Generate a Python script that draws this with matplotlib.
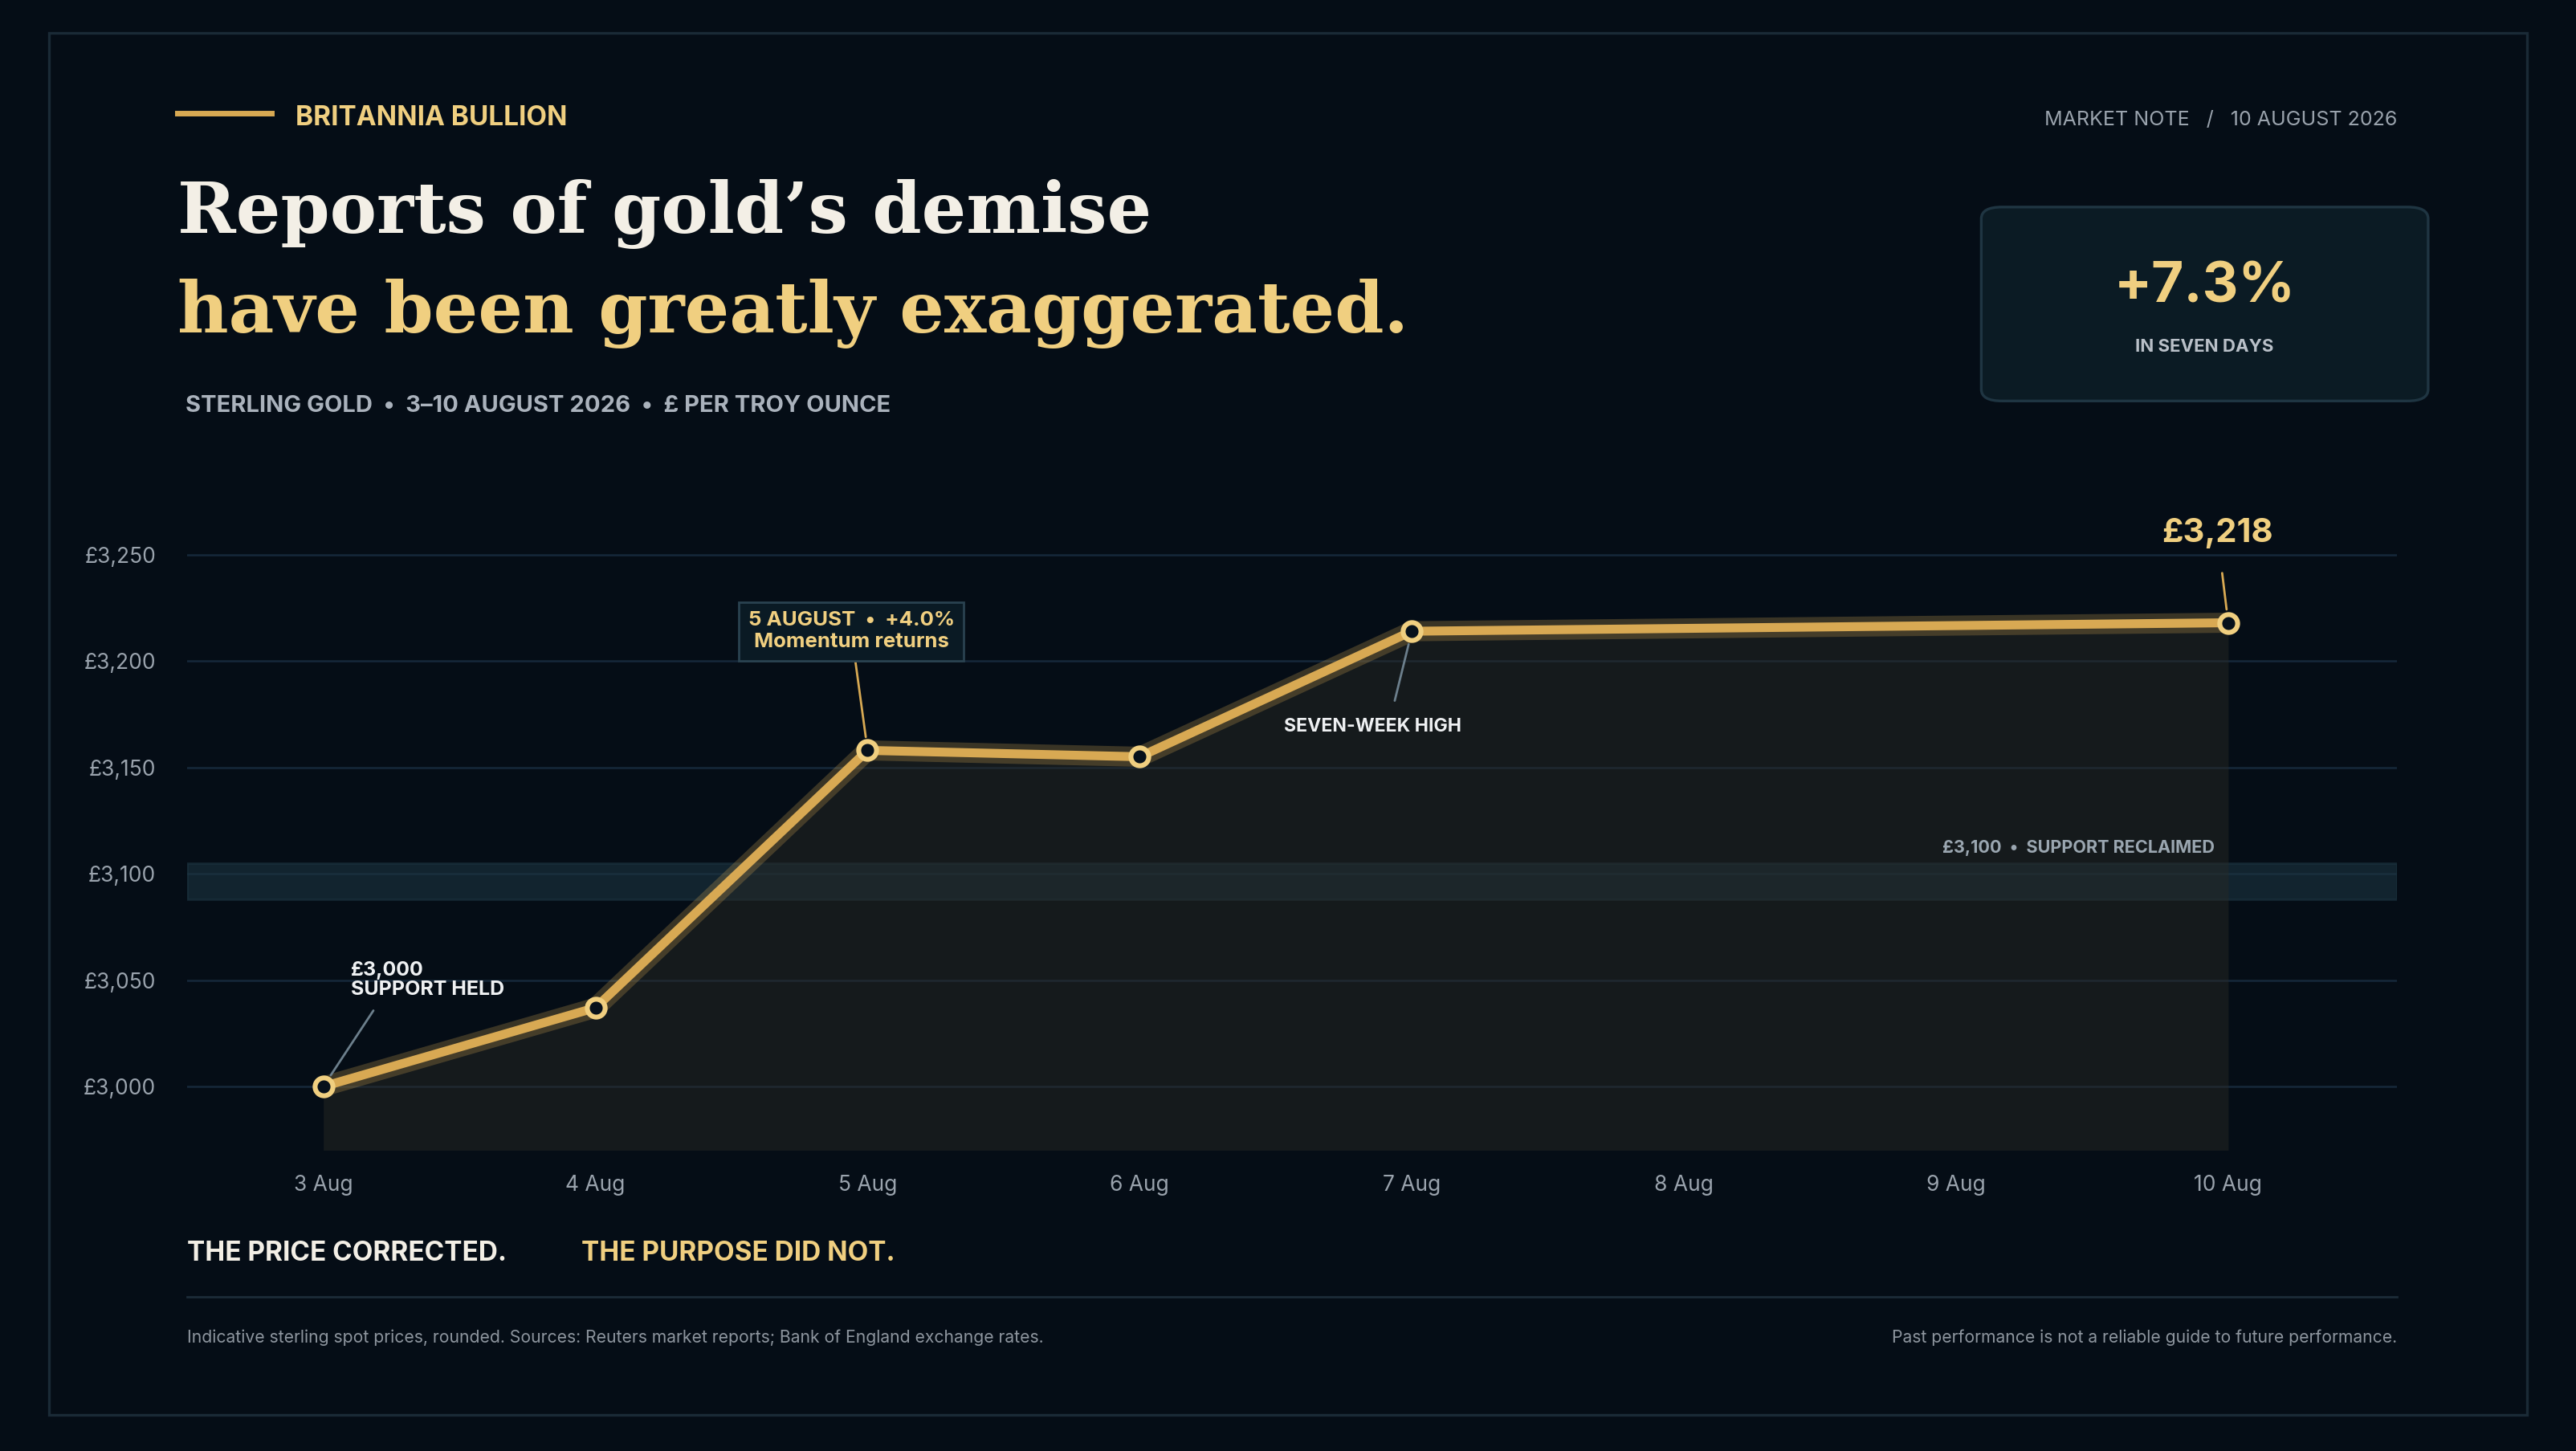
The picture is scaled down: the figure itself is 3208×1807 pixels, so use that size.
import matplotlib.pyplot as plt
from matplotlib.patches import FancyBboxPatch, Rectangle
from matplotlib.lines import Line2D

# data
days = [3, 4, 5, 6, 7, 10]
prices = [3000, 3037, 3158, 3155, 3214, 3218]
tick_days = [3, 4, 5, 6, 7, 8, 9, 10]
tick_labels = ['3 Aug', '4 Aug', '5 Aug', '6 Aug', '7 Aug', '8 Aug', '9 Aug', '10 Aug']
y_ticks = [3000, 3050, 3100, 3150, 3200, 3250]

BG = '#050d16'
GOLD = '#d8a953'
LGOLD = '#f0cf80'
CREAM = '#f3efe6'
GREY = '#9aa3ad'
SANS = ['Inter', 'DejaVu Sans']
SERIF = ['DejaVu Serif']

W, H = 1568.0, 883.0
def fx(x):
    return x / W
def fy(y):
    return 1 - y / H

fig = plt.figure(figsize=(16.04, 9.035), dpi=200, facecolor=BG)

# outer frame
fig.patches.append(Rectangle((fx(30), fy(861)), fx(1508), 841 / H, transform=fig.transFigure,
                             fill=False, edgecolor='#1a2a36', lw=1.2))

# header
fig.add_artist(Line2D([fx(108), fx(165)], [fy(69), fy(69)], color=GOLD, lw=2.5, transform=fig.transFigure))
fig.text(fx(180), fy(72), 'BRITANNIA BULLION', color=LGOLD, fontsize=12, fontweight='bold', family=SANS, va='center')
fig.text(fx(1459), fy(73), 'MARKET NOTE   /   10 AUGUST 2026', color=GREY, fontsize=9, family=SANS, va='center', ha='right')
fig.text(fx(108), fy(130), 'Reports of gold\u2019s demise', color=CREAM, fontsize=31.5, fontweight='bold', family=SERIF, va='center')
fig.text(fx(108), fy(191), 'have been greatly exaggerated.', color=LGOLD, fontsize=31.5, fontweight='bold', family=SERIF, va='center')
fig.text(fx(113), fy(247), 'STERLING GOLD  \u2022  3\u201310 AUGUST 2026  \u2022  \u00a3 PER TROY OUNCE', color='#aab2bc',
         fontsize=10.5, fontweight='bold', family=SANS, va='center')

# badge
fig.patches.append(FancyBboxPatch((fx(1206), fy(244)), fx(272), 118 / H, transform=fig.transFigure,
                                  boxstyle='round,pad=0,rounding_size=0.008', facecolor='#0b1b24',
                                  edgecolor='#1f3542', lw=1.2))
fig.text(fx(1342), fy(175), '+7.3%', color=LGOLD, fontsize=25, fontweight='bold', family=SANS, ha='center', va='center')
fig.text(fx(1342), fy(211), 'IN SEVEN DAYS', color='#b9c0c8', fontsize=8, fontweight='bold', family=SANS, ha='center', va='center')

# chart
ax = fig.add_axes([fx(114), fy(700), fx(1459) - fx(114), (700 - 300) / H])
ax.set_facecolor('none')
ax.set_xlim(2.5, 10.62)
ax.set_ylim(2970, 3279)
for s in ax.spines.values():
    s.set_visible(False)
for v in y_ticks:
    ax.axhline(v, color='#16283a', lw=0.9, zorder=1)
ax.axhspan(3088, 3105, color='#1c3440', alpha=0.6, zorder=1)
ax.text(9.95, 3112, '\u00a33,100  \u2022  SUPPORT RECLAIMED', color='#9aa6b0', fontsize=7.8, fontweight='bold',
        family=SANS, ha='right', va='center')
ax.fill_between(days, prices, 2970, color='#2a2a24', alpha=0.45, zorder=2, lw=0)
ax.plot(days, prices, color=GOLD, lw=9, alpha=0.25, zorder=3, solid_capstyle='round')
ax.plot(days, prices, color=GOLD, lw=4, zorder=4, solid_joinstyle='round')
ax.plot(days, prices, 'o', ms=8, mfc='#07111b', mec=LGOLD, mew=2.2, zorder=5)

ax.set_xticks(tick_days)
ax.set_xticklabels(tick_labels)
ax.set_yticks(y_ticks)
ax.set_yticklabels(['\u00a3{:,}'.format(v) for v in y_ticks])
ax.tick_params(length=0, colors=GREY, labelsize=9.5)
for t in ax.get_xticklabels() + ax.get_yticklabels():
    t.set_family(SANS)
ax.tick_params(axis='y', pad=14)
ax.tick_params(axis='x', pad=11)

# annotations
ax.annotate('\u00a33,000\nSUPPORT HELD', xy=(days[0], prices[0]), xytext=(3.1, 3059), color='#eef0f2',
            fontsize=9, fontweight='bold', family=SANS, va='top', linespacing=1.05,
            arrowprops=dict(arrowstyle='-', color='#6c7f8c', lw=1, shrinkA=4, shrinkB=6,
                            relpos=(0.2, 0)))
ax.annotate('5 AUGUST  \u2022  +4.0%\nMomentum returns', xy=(days[2], prices[2]), xytext=(4.94, 3214),
            color=LGOLD, fontsize=9.3, fontweight='bold', family=SANS, ha='center', va='center', linespacing=1.2,
            bbox=dict(boxstyle='square,pad=0.45', fc='#0a1a24', ec='#2a4250', lw=1),
            arrowprops=dict(arrowstyle='-', color=GOLD, lw=1, shrinkA=0, shrinkB=6))
ax.annotate('SEVEN-WEEK HIGH', xy=(days[4], prices[4]), xytext=(6.53, 3169), color='#eef0f2',
            fontsize=8.3, fontweight='bold', family=SANS, ha='left', va='center',
            arrowprops=dict(arrowstyle='-', color='#6c7f8c', lw=1, shrinkA=6, shrinkB=6, relpos=(0.6, 1)))
ax.annotate('\u00a33,218', xy=(days[5], prices[5]), xytext=(9.96, 3260), color=LGOLD, fontsize=15,
            fontweight='bold', family=SANS, ha='center', va='center',
            arrowprops=dict(arrowstyle='-', color=GOLD, lw=1, shrinkA=9, shrinkB=6))

# footer
fig.text(fx(114), fy(763), 'THE PRICE CORRECTED.', color=CREAM, fontsize=12, fontweight='bold', family=SANS, va='center')
fig.text(fx(354), fy(763), 'THE PURPOSE DID NOT.', color=LGOLD, fontsize=12, fontweight='bold', family=SANS, va='center')
fig.add_artist(Line2D([fx(114), fx(1459)], [fy(789), fy(789)], color='#1c2c38', lw=1, transform=fig.transFigure))
fig.text(fx(114), fy(814), 'Indicative sterling spot prices, rounded. Sources: Reuters market reports; Bank of England exchange rates.',
         color='#8d959e', fontsize=7.6, family=SANS, va='center')
fig.text(fx(1459), fy(814), 'Past performance is not a reliable guide to future performance.',
         color='#8d959e', fontsize=7.6, family=SANS, va='center', ha='right')

fig.savefig('out.png', dpi=200, facecolor=BG)
